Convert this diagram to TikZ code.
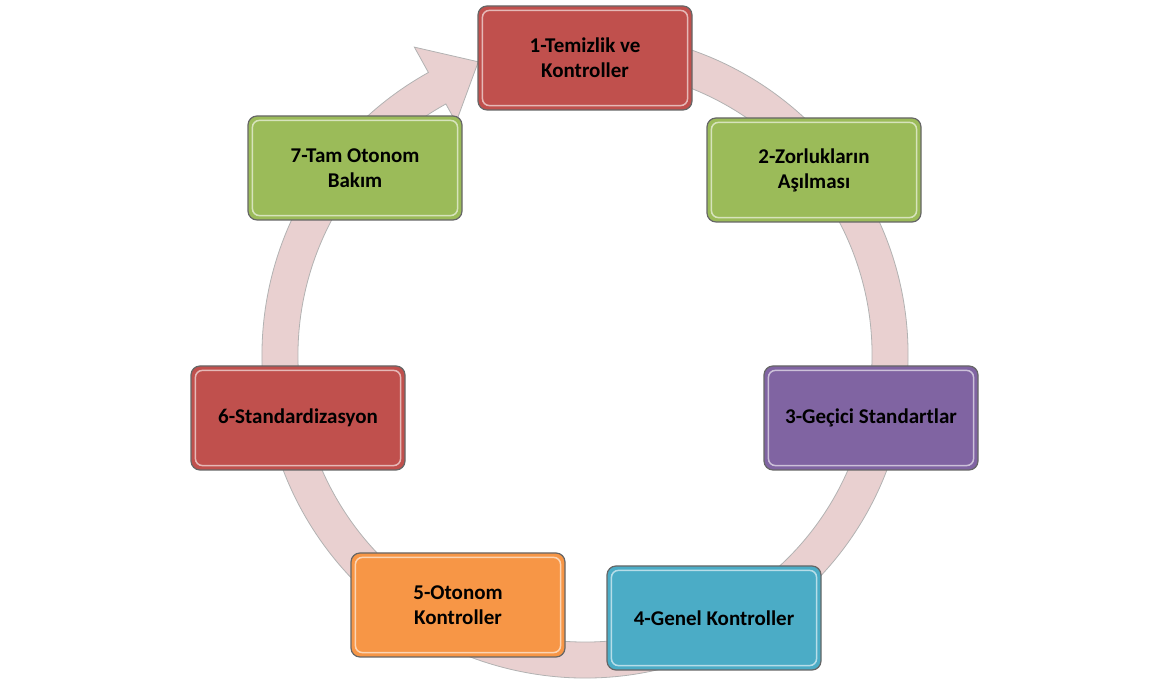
\documentclass[tikz,border=0pt]{standalone}
\usepackage{fontspec}
\setmainfont{Carlito}
\begin{document}
\begin{tikzpicture}[x=1pt,y=1pt,
  box/.style={draw=black!60,line width=1.2pt,rounded corners=9pt,minimum width=214pt,minimum height=104pt,align=center,font=\fontsize{21}{25}\selectfont\bfseries,text=black},
  hl/.style={draw=white,opacity=0.6,line width=1.5pt,rounded corners=7pt}]
\useasboundingbox (0,0) rectangle (1170,684);
\begin{scope}[shift={(585,329)}]
\filldraw[fill={rgb,255:red,233;green,208;blue,208},draw=black!30,line width=0.8pt]
 (440:323) arc[start angle=440,end angle=119,radius=323] -- (119:352) -- (110:312) -- (119:266) -- (119:287) arc[start angle=119,end angle=440,radius=287] -- cycle;
\end{scope}
\node[box,fill={rgb,255:red,192;green,80;blue,77}] (n1) at (585,626) {1-Temizlik ve\\Kontroller};
\node[box,fill={rgb,255:red,155;green,187;blue,89}] (n2) at (814,514) {2-Zorlukların\\Aşılması};
\node[box,fill={rgb,255:red,128;green,100;blue,162}] (n3) at (871,266) {3-Geçici Standartlar};
\node[box,fill={rgb,255:red,75;green,172;blue,198}] (n4) at (714,66) {4-Genel Kontroller};
\node[box,fill={rgb,255:red,247;green,150;blue,70}] (n5) at (458,79) {5-Otonom\\Kontroller};
\node[box,fill={rgb,255:red,192;green,80;blue,77}] (n6) at (298,266) {6-Standardizasyon};
\node[box,fill={rgb,255:red,155;green,187;blue,89}] (n7) at (355,516) {7-Tam Otonom\\Bakım};
\foreach \n in {n1,n2,n3,n4,n5,n6,n7}{
  \draw[hl] ([shift={(5pt,-5pt)}]\n.north west) rectangle ([shift={(-5pt,5pt)}]\n.south east);}
\end{tikzpicture}
\end{document}
